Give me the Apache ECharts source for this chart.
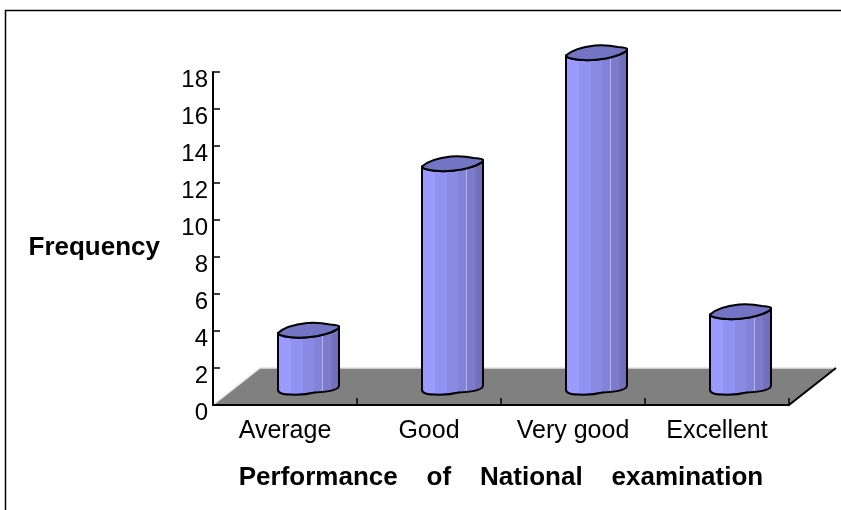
<!DOCTYPE html>
<html>
<head>
<meta charset="utf-8">
<style>
  html, body { margin: 0; padding: 0; background: #fff; }
  #chart { width: 841px; height: 510px; }
</style>
</head>
<body>
<div id="chart"></div>
<script src="https://cdn.jsdelivr.net/npm/echarts@6/dist/echarts.min.js"></script>
<script>
const categories = ['Average', 'Good', 'Very good', 'Excellent'];
const frequency = [3, 12, 18, 4];
const yTicks = [0, 2, 4, 6, 8, 10, 12, 14, 16, 18];
const floorBackValue = [2];

const fontFamily = '"Liberation Sans", Arial, sans-serif';
const depthX = 47;      // floor depth, sideways
const halfWidth = 30.5; // half a cylinder

const chart = echarts.init(document.getElementById('chart'));

// the floor under the bars, from the grid rect and the level of its back edge
function renderFloor(params, api) {
  const rect = params.coordSys;
  const front = rect.y + rect.height;
  const back = api.coord([0, api.value(0)])[1];
  const left = rect.x;
  const right = rect.x + rect.width;
  return {
    type: 'group',
    children: [
      {
        type: 'polygon',
        shape: { points: [[left, front], [right, front], [right + depthX, back], [left + depthX, back]] },
        style: { fill: '#808080' }
      },
      {
        type: 'polyline',
        shape: { points: [[left, front], [left + depthX, back], [right + depthX, back]] },
        style: { fill: 'none', stroke: '#e4e4e4', lineWidth: 1.5 }
      },
      {
        type: 'line',
        shape: { x1: right, y1: front, x2: right + depthX, y2: back },
        style: { stroke: '#000', lineWidth: 2 }
      }
    ]
  };
}

// lumpy cylinder, standing in the middle of the floor's depth
function renderBar(params, api) {
  const base = api.coord([api.value(0), 0]);
  const backY = api.coord([0, floorBackValue[0]])[1];
  const top = api.coord([api.value(0), api.value(1)]);
  const cx = base[0] + depthX / 2;
  const shift = (base[1] - backY) / 2;
  const by = base[1] - shift;
  const ty = top[1] - shift;
  const x = u => (cx + u * halfWidth).toFixed(1);

  const topEdge = 'C' + x(-0.75) + ' ' + (ty - 5) + ' ' + x(-0.35) + ' ' + (ty - 7) + ' ' + x(-0.05) + ' ' + (ty - 8) +
    ' C' + x(0.2) + ' ' + (ty - 8.5) + ' ' + x(0.55) + ' ' + (ty - 7.5) + ' ' + x(0.7) + ' ' + (ty - 6.5) +
    ' C' + x(0.85) + ' ' + (ty - 6) + ' ' + x(1) + ' ' + (ty - 6) + ' ' + x(1) + ' ' + (ty - 4.5);
  const frontEdge = 'C' + x(1) + ' ' + (ty - 1) + ' ' + x(0.6) + ' ' + (ty + 3) + ' ' + x(0.3) + ' ' + (ty + 5) +
    ' C' + x(0) + ' ' + (ty + 6.5) + ' ' + x(-0.2) + ' ' + (ty + 7) + ' ' + x(-0.45) + ' ' + (ty + 6.5) +
    ' C' + x(-0.7) + ' ' + (ty + 6) + ' ' + x(-1) + ' ' + (ty + 4.5) + ' ' + x(-1) + ' ' + (ty + 2);
  const bottomEdge = 'C' + x(-1) + ' ' + (by + 6) + ' ' + x(-0.85) + ' ' + (by + 8) + ' ' + x(-0.6) + ' ' + (by + 8) +
    ' C' + x(-0.3) + ' ' + (by + 8.5) + ' ' + x(0) + ' ' + (by + 7.5) + ' ' + x(0.2) + ' ' + (by + 6) +
    ' C' + x(0.55) + ' ' + (by + 5.5) + ' ' + x(1) + ' ' + (by + 4) + ' ' + x(1) + ' ' + (by - 1);

  const bodyPath = 'M' + x(-1) + ' ' + (ty + 2) + ' L' + x(-1) + ' ' + (by + 3) + ' ' + bottomEdge +
    ' L' + x(1) + ' ' + (ty - 4.5) + ' ' + frontEdge + ' Z';
  const topPath = 'M' + x(-1) + ' ' + (ty + 2) + ' ' + topEdge + ' ' + frontEdge + ' Z';

  const stripes = [
    [0, '#9a9aff'], [0.22, '#9a9aff'], [0.22, '#9292f3'], [0.42, '#9292f3'], [0.42, '#8a8ae4'],
    [0.58, '#8a8ae4'], [0.58, '#8282d6'], [0.71, '#8282d6'], [0.71, '#b4b4e6'], [0.725, '#b4b4e6'],
    [0.725, '#7c7ccc'], [0.86, '#7c7ccc'], [0.86, '#7373bd'], [1, '#6e6eb4']
  ].map(s => ({ offset: s[0], color: s[1] }));

  return {
    type: 'group',
    children: [
      {
        type: 'path',
        shape: { pathData: bodyPath },
        style: {
          fill: new echarts.graphic.LinearGradient(0, 0, 1, 0, stripes),
          stroke: '#000',
          lineWidth: 2,
          lineJoin: 'round'
        }
      },
      {
        type: 'path',
        shape: { pathData: topPath },
        style: { fill: '#7474c4', stroke: '#000', lineWidth: 2, lineJoin: 'round' }
      }
    ]
  };
}

const option = {
  animation: false,
  backgroundColor: '#fff',
  // outer frame, runs off the right and bottom of the picture
  graphic: [{
    type: 'polyline',
    silent: true,
    shape: { points: [[5.5, 510], [5.5, 10.5], [841, 10.5]] },
    style: { fill: 'none', stroke: '#000', lineWidth: 1.5 }
  }],
  grid: { left: 213, top: 72, width: 576, height: 333, outerBoundsMode: 'none' },
  xAxis: {
    type: 'category',
    data: categories,
    z: 1,
    name: 'Performance    of    National    examination',
    nameLocation: 'middle',
    nameGap: 60,
    nameTextStyle: { color: '#000', fontFamily, fontSize: 26, fontWeight: 'bold' },
    axisLine: { lineStyle: { color: '#000', width: 2 } },
    axisTick: { show: true, inside: true, length: 7, lineStyle: { color: '#000', width: 1.5 } },
    axisLabel: { color: '#000', fontFamily, fontSize: 25, margin: 14, interval: 0 },
    splitLine: { show: false }
  },
  yAxis: {
    type: 'value',
    min: yTicks[0],
    max: yTicks[yTicks.length - 1],
    interval: yTicks[1] - yTicks[0],
    z: 1,
    name: 'Frequency',
    nameLocation: 'middle',
    nameRotate: 0,
    nameGap: 53,
    nameTextStyle: { color: '#000', fontFamily, fontSize: 26, fontWeight: 'bold', verticalAlign: 'top', lineHeight: 18 },
    axisLine: { show: true, lineStyle: { color: '#000', width: 2 } },
    axisTick: { show: true, inside: true, length: 7, lineStyle: { color: '#000', width: 1.5 } },
    axisLabel: { color: '#000', fontFamily, fontSize: 24, margin: 5, verticalAlign: 'top', lineHeight: 16 },
    splitLine: { show: false }
  },
  series: [
    { type: 'custom', z: 0, silent: true, renderItem: renderFloor, data: floorBackValue.map(v => [v]), encode: { y: 0 } },
    { type: 'custom', z: 2, renderItem: renderBar, data: frequency.map((v, i) => [i, v]), encode: { x: 0, y: 1 } }
  ]
};

chart.setOption(option);
</script>
</body>
</html>
